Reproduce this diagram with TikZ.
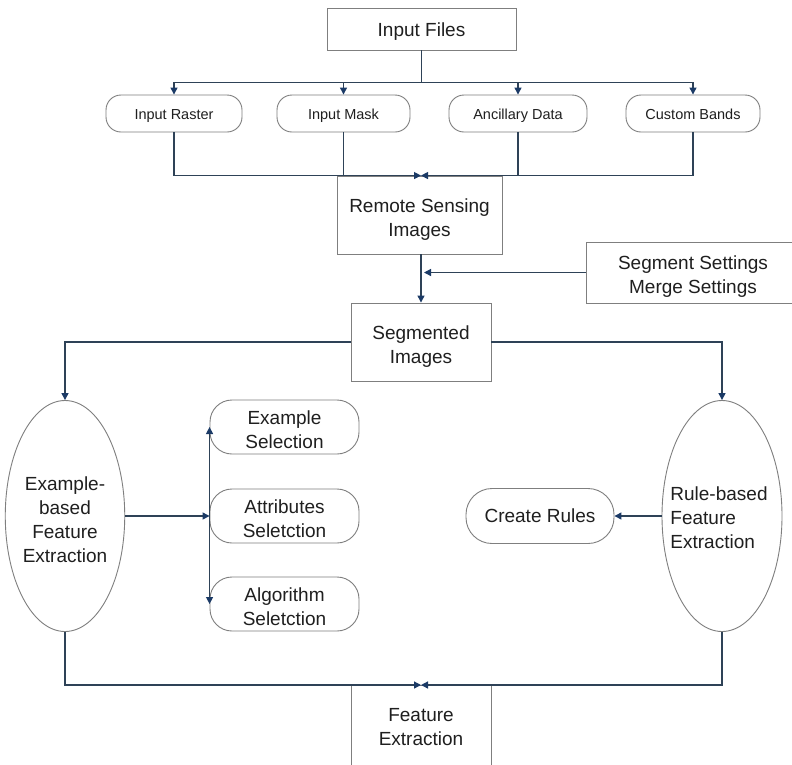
\documentclass[tikz,border=0pt]{standalone}
\usepackage{fontspec}
\setmainfont{Liberation Sans}
\usetikzlibrary{arrows.meta,shapes.geometric}
\definecolor{lineC}{HTML}{2E4257}
\definecolor{tipC}{HTML}{1B3A66}
\definecolor{boxC}{HTML}{7F7F7F}
\tikzset{
  big/.style={font=\fontsize{19}{24}\selectfont, align=center, text=black!88},
  small/.style={font=\fontsize{14.5}{17}\selectfont, text=black!88, text height=15.5pt, text depth=3pt},
  twoline/.style={text height=46pt},
  sqbox/.style={big, draw=boxC, line width=0.9pt, inner sep=0pt},
  pill/.style={small, draw=boxC, line width=0.9pt, rounded corners=15pt, inner sep=0pt, minimum width=136pt, minimum height=37pt},
  bigpill/.style={big, draw=boxC, line width=0.9pt, rounded corners=22pt, inner sep=0pt, minimum width=149pt, minimum height=54pt},
  oval/.style={big, draw=boxC, line width=0.9pt, ellipse, inner sep=0pt},
  conn/.style={draw=lineC, line width=1.3pt},
  arr/.style={conn, -{Triangle[length=7pt,width=7pt,fill=tipC,color=tipC]}}
}
\begin{document}
\begin{tikzpicture}[x=1pt,y=-1pt]
\useasboundingbox (0,0) rectangle (792,764);
\fill[white] (0,0) rectangle (792,764);

\node[sqbox, minimum width=189pt, minimum height=42pt, text height=18pt] (files) at (421.5,29) {Input Files};
\node[pill] (raster) at (174,113.5) {Input Raster};
\node[pill, minimum width=133pt] (mask) at (343.5,113.5) {Input Mask};
\node[pill, minimum width=138pt] (anc) at (518,113.5) {Ancillary Data};
\node[pill, minimum width=134pt] (bands) at (693,113.5) {Custom Bands};

\node[sqbox, twoline, minimum width=165pt, minimum height=78pt] (rs) at (419.5,215) {Remote Sensing\\Images};
\node[sqbox, twoline, minimum width=214pt, minimum height=61pt] (sset) at (693,272.5) {Segment Settings\\Merge Settings};
\node[sqbox, twoline, minimum width=140pt, minimum height=78pt] (segd) at (421,342) {Segmented\\Images};

\node[oval, text height=94pt, minimum width=114pt, minimum height=231pt] (exfe) at (65,516) {Example-\\based\\Feature\\Extraction};
\node[bigpill, text height=43pt] (exsel) at (284.5,427) {Example\\Selection};
\node[bigpill, text height=43pt] (attr) at (284.5,516) {Attributes\\Seletction};
\node[bigpill, text height=43pt] (alg) at (284.5,604) {Algorithm\\Seletction};

\node[oval, minimum width=120pt, minimum height=231pt] (rbfe) at (722,516) {};
\node[big, align=left] (rbtxt) at (719,518) {Rule-based\\Feature\\Extraction};
\node[bigpill, minimum width=148pt, minimum height=55pt, rounded corners=26pt] (create) at (540,516) {Create Rules};

\node[sqbox, minimum width=140pt, minimum height=100pt, anchor=north] (fe) at (421,685) {};
\node[big] (fetxt) at (421,727) {Feature\\Extraction};

% top fan-out
\draw[conn] (files.south) -- ++(0,32) coordinate (bus);
\draw[arr] (bus) -| (raster.north);
\draw[arr] (bus) -| (mask.north);
\draw[arr] (bus) -| (anc.north);
\draw[arr] (bus) -| (bands.north);

% merge into remote sensing
\draw[arr] (raster.south) |- ([xshift=1.5pt]rs.north);
\draw[arr] (bands.south) |- ([xshift=1.5pt]rs.north);
\draw[conn] (mask.south) -- (mask.south |- rs.north);
\draw[conn] (anc.south) -- (anc.south |- rs.north);

% remote sensing to segmented
\draw[arr] ([xshift=1.5pt]rs.south) -- (segd.north);
\draw[arr] (sset.west) -- ([xshift=3pt]segd.north |- sset.west);

% segmented to branches
\draw[arr] (segd.west) -| (exfe.north);
\draw[arr] (segd.east) -| (rbfe.north);

% example-based
\draw[arr] (exfe.east) -- (attr.west);
\draw[arr] (attr.west) -- (exsel.west);
\draw[arr] (attr.west) -- (alg.west);

% rule-based
\draw[arr] (rbfe.west) -- (create.east);

% merge into feature extraction
\draw[arr] (exfe.south) |- (fe.north);
\draw[arr] (rbfe.south) |- (fe.north);
\end{tikzpicture}
\end{document}
